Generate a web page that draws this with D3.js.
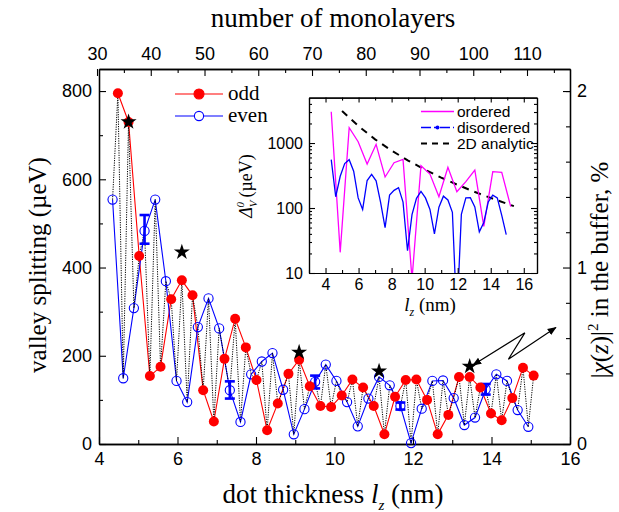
<!DOCTYPE html>
<html><head><meta charset="utf-8">
<script src="https://cdn.jsdelivr.net/npm/d3@7"></script>
<style>body{margin:0;background:#fff} svg{display:block}</style>
</head><body><svg id="c" width="619" height="512"></svg>
<script>
// ---------- data ----------
const ML_NM = 0.1358; // nm per monolayer
const oddML  = [33,35,37,39,41,43,45,47,49,51,53,55,57,59,61,63,65,67,69,71,73,75,77,79,81,83,85,87,89,91,93,95,97,99,101,103,105,107,109,111];
const oddVal = [795,730,426,154,175,328,371,337,122,51,193,284,219,145,31,92,159,191,131,86,84,110,146,128,86,22,107,145,146,100,22,66,152,152,128,69,54,104,173,155];
const evenML  = [32,34,36,38,40,42,44,46,48,50,52,54,56,58,60,62,64,66,68,70,72,74,76,78,80,82,84,86,88,90,92,94,96,98,100,102,104,106,108,110];
const evenVal = [554,149,308,483,554,369,143,95,265,330,262,122,50,158,187,206,123,22,79,141,180,143,95,40,103,152,133,86,2,80,143,144,104,43,60,124,158,143,77,39];
const errML = [38,54,70,86,102];
const errLo = [454,103,126,78,112];
const errHi = [519,142,155,94,136];
const starML  = [35,45,67,82,99];
const starVal = [730,435,208,165,176];
const orderedML  = [32,36,40,44,48,52,56,60,64,68,72,76,80,84,88,92,96,100,104,108,112];
const orderedVal = [3030,20.8,1720,1047,475,955,300,498,561,8,448,333,149,423,178,254,384,52,362,354,105];
const analyticLz  = [5.0,6,7,8,9,10,11,12,13,14,15,15.4];
const analyticVal = [3100,1820,1140,765,537,392,294,227,178,143,116,107];
const arrowLz  = [13.53,14.85,14.43,15.64];
const arrowVal = [179,252,192,264];
const xTicks = [4,6,8,10,12,14,16];
const xMinor = [5,7,9,11,13,15];
const yTicks = [0,200,400,600,800];
const yMinor = [100,300,500,700];
const rTicks = [0,1,2];
const rMinor = [0.2,0.4,0.6,0.8,1.2,1.4,1.6,1.8,2.0];
const topTicks = [30,40,50,60,70,80,90,100,110];
const topMinor = [35,45,55,65,75,85,95,105,115];
const topDomain = [30.37,118.0];
const inXTicks = [4,6,8,10,12,14,16];
const inXMinor = [3,5,7,9,11,13,15];
const inYTicks = [10,100,1000];
const inYMinor = [20,30,40,50,60,70,80,90,200,300,400,500,600,700,800,900,2000,3000,4000];

// ---------- setup ----------
const SANS = "'Liberation Sans', Arial, sans-serif";
const SERIF = "'Liberation Serif', 'Times New Roman', serif";
const svg = d3.select("#c");
const L = 99, R = 570, T = 69, B = 444;
const x = d3.scaleLinear([4,16],[L,R]);
const y = d3.scaleLinear([0,850],[B,T]);
const yR = d3.scaleLinear([0,850/400],[B,T]);
const xTop = d3.scaleLinear(topDomain,[L,R]);

function styleAxis(g, fs, font){
  g.selectAll("path.domain").attr("stroke","#000").attr("stroke-width",1.3);
  g.selectAll(".tick line").attr("stroke","#000").attr("stroke-width",1.1);
  g.selectAll("text").attr("font-family",font||SANS).attr("font-size",fs).attr("fill","#000");
}
// main axes
const gB = svg.append("g").attr("transform",`translate(0,${B})`)
  .call(d3.axisBottom(x).tickValues(xTicks).tickSize(-7).tickSizeOuter(0).tickPadding(8));
styleAxis(gB,18);
const gBm = svg.append("g").attr("transform",`translate(0,${B})`)
  .call(d3.axisBottom(x).tickValues(xMinor).tickSize(-4).tickSizeOuter(0).tickFormat(""));
styleAxis(gBm,18);
const gL = svg.append("g").attr("transform",`translate(${L},0)`)
  .call(d3.axisLeft(y).tickValues(yTicks).tickSize(-7).tickSizeOuter(0).tickPadding(7));
styleAxis(gL,18);
const gLm = svg.append("g").attr("transform",`translate(${L},0)`)
  .call(d3.axisLeft(y).tickValues(yMinor).tickSize(-4).tickSizeOuter(0).tickFormat(""));
styleAxis(gLm,18);
const gR = svg.append("g").attr("transform",`translate(${R},0)`)
  .call(d3.axisRight(yR).tickValues(rTicks).tickSize(-7).tickSizeOuter(0).tickPadding(7).tickFormat(d3.format("d")));
styleAxis(gR,18);
const gRm = svg.append("g").attr("transform",`translate(${R},0)`)
  .call(d3.axisRight(yR).tickValues(rMinor).tickSize(-4).tickSizeOuter(0).tickFormat(""));
styleAxis(gRm,18);
const gT = svg.append("g").attr("transform",`translate(0,${T})`)
  .call(d3.axisTop(xTop).tickValues(topTicks).tickSize(-7).tickSizeOuter(0).tickPadding(9));
styleAxis(gT,18);
const gTm = svg.append("g").attr("transform",`translate(0,${T})`)
  .call(d3.axisTop(xTop).tickValues(topMinor).tickSize(-4).tickSizeOuter(0).tickFormat(""));
styleAxis(gTm,18);

// titles
svg.append("text").attr("x",333).attr("y",27).attr("text-anchor","middle")
  .attr("font-family",SERIF).attr("font-size",27).text("number of monolayers");
const bt = svg.append("text").attr("x",333).attr("y",503).attr("text-anchor","middle")
  .attr("font-family",SERIF).attr("font-size",27);
bt.append("tspan").text("dot thickness ");
bt.append("tspan").attr("font-style","italic").text("l");
bt.append("tspan").attr("font-style","italic").attr("font-size",15).attr("dy",7).text("z");
bt.append("tspan").attr("dy",-7).text(" (nm)");
svg.append("text").attr("transform","translate(46,265) rotate(-90)").attr("text-anchor","middle")
  .attr("font-family",SERIF).attr("font-size",25).text("valley splitting (\u00B5eV)");
const rt = svg.append("text").attr("transform","translate(608,270) rotate(-90)").attr("text-anchor","middle")
  .attr("font-family",SERIF).attr("font-size",25);
rt.append("tspan").text("|");
rt.append("tspan").attr("font-style","italic").text("\u03C7");
rt.append("tspan").text("(");
rt.append("tspan").attr("font-style","italic").text("z");
rt.append("tspan").text(")|");
rt.append("tspan").attr("font-size",15).attr("dy",-10).text("2");
rt.append("tspan").attr("dy",10).text(" in the buffer, %");

// ---------- main data ----------
const odd = oddML.map((m,i)=>({lz:m*ML_NM, v:oddVal[i], ml:m}));
const even = evenML.map((m,i)=>({lz:m*ML_NM, v:evenVal[i], ml:m}));
const all = odd.concat(even).sort((a,b)=>a.ml-b.ml);
const line = d3.line().x(d=>x(d.lz)).y(d=>y(d.v));
svg.append("path").attr("d",line(odd)).attr("fill","none").attr("stroke","#ff0000").attr("stroke-width",1.1);
svg.append("path").attr("d",line(even)).attr("fill","none").attr("stroke","#0000ff").attr("stroke-width",1.1);
svg.append("path").attr("d",line(all)).attr("fill","none").attr("stroke","#000").attr("stroke-width",1).attr("stroke-dasharray","1.2,1.2");

// error bars
errML.forEach((m,i)=>{
  const cx = x(m*ML_NM), g = svg.append("g").attr("stroke","#0000ff").attr("stroke-width",2.6);
  g.append("line").attr("x1",cx).attr("x2",cx).attr("y1",y(errLo[i])).attr("y2",y(errHi[i]));
  g.append("line").attr("x1",cx-5).attr("x2",cx+5).attr("y1",y(errLo[i])).attr("y2",y(errLo[i]));
  g.append("line").attr("x1",cx-5).attr("x2",cx+5).attr("y1",y(errHi[i])).attr("y2",y(errHi[i]));
});
svg.append("g").selectAll("circle").data(even).join("circle")
  .attr("cx",d=>x(d.lz)).attr("cy",d=>y(d.v)).attr("r",4.6)
  .attr("fill","none").attr("stroke","#0000ff").attr("stroke-width",1.1);
svg.append("g").selectAll("circle").data(odd).join("circle")
  .attr("cx",d=>x(d.lz)).attr("cy",d=>y(d.v)).attr("r",5).attr("fill","#ff0000");

// stars
const star = d3.symbol().type(d3.symbolStar).size(80);
svg.append("g").selectAll("path").data(starML.map((m,i)=>({lz:m*ML_NM,v:starVal[i]}))).join("path")
  .attr("d",star).attr("transform",d=>`translate(${x(d.lz)},${y(d.v)})`).attr("fill","#000");

// arrow
const defs = svg.append("defs");
defs.append("marker").attr("id","ah").attr("viewBox","0 0 10 10").attr("refX",9).attr("refY",5)
  .attr("markerWidth",9).attr("markerHeight",9).attr("markerUnits","userSpaceOnUse").attr("orient","auto-start-reverse")
  .append("path").attr("d","M0,1 L10,5 L0,9 Z").attr("fill","#000");
const arr = arrowLz.map((l,i)=>[x(l),y(arrowVal[i])]);
svg.append("path").attr("d",d3.line()(arr)).attr("fill","none").attr("stroke","#000").attr("stroke-width",1.2)
  .attr("marker-start","url(#ah)").attr("marker-end","url(#ah)");

// main legend
const lg = svg.append("g");
[["odd","#ff0000",true,94],["even","#0000ff",false,116]].forEach(([t,c,f,yy])=>{
  lg.append("line").attr("x1",175).attr("x2",223).attr("y1",yy).attr("y2",yy).attr("stroke",c).attr("stroke-width",1.1);
  lg.append("circle").attr("cx",199).attr("cy",yy).attr("r",f?5:4.6).attr("fill",f?c:"#fff").attr("stroke",c).attr("stroke-width",1.1);
  lg.append("text").attr("x",228).attr("y",yy+6).attr("font-family",SERIF).attr("font-size",21).text(t);
});

// ---------- inset ----------
const iL = 309, iR = 537, iT = 97.6, iB = 273;
const xi = d3.scaleLinear([3,16.8],[iL,iR]);
const yi = d3.scaleLog([10,5000],[iB,iT]);
svg.append("rect").attr("x",iL).attr("y",iT).attr("width",iR-iL).attr("height",iB-iT).attr("fill","#fff");
defs.append("clipPath").attr("id","ic").append("rect").attr("x",iL).attr("y",iT).attr("width",iR-iL).attr("height",iB-iT);
const ic = svg.append("g").attr("clip-path","url(#ic)");
const li = d3.line().x(d=>xi(d.lz)).y(d=>yi(Math.max(d.v,1)));
ic.append("path").attr("d",li(analyticLz.map((l,i)=>({lz:l,v:analyticVal[i]}))))
  .attr("fill","none").attr("stroke","#000").attr("stroke-width",2).attr("stroke-dasharray","7,6");
ic.append("path").attr("d",li(orderedML.map((m,i)=>({lz:m*ML_NM,v:orderedVal[i]}))))
  .attr("fill","none").attr("stroke","#ff00ff").attr("stroke-width",1.3);
ic.append("path").attr("d",li(even))
  .attr("fill","none").attr("stroke","#0000ff").attr("stroke-width",1.3);

function insetAxis(gen, tr, vals, size, labels){
  const g = svg.append("g").attr("transform",tr)
    .call(gen.tickValues(vals).tickSize(size).tickSizeOuter(0).tickPadding(6).tickFormat(labels?d3.format("d"):""));
  styleAxis(g,16);
  g.selectAll("path.domain").attr("stroke-width",1.2);
  return g;
}
insetAxis(d3.axisBottom(xi),`translate(0,${iB})`,inXTicks,-5,true);
insetAxis(d3.axisBottom(xi),`translate(0,${iB})`,inXMinor,-3,false);
insetAxis(d3.axisTop(xi),`translate(0,${iT})`,inXTicks,-5,false);
insetAxis(d3.axisTop(xi),`translate(0,${iT})`,inXMinor,-3,false);
insetAxis(d3.axisLeft(yi),`translate(${iL},0)`,inYTicks,-6,true);
insetAxis(d3.axisLeft(yi),`translate(${iL},0)`,inYMinor,-3,false);
insetAxis(d3.axisRight(yi),`translate(${iR},0)`,inYTicks,-6,false);
insetAxis(d3.axisRight(yi),`translate(${iR},0)`,inYMinor,-3,false);

const ixl = svg.append("text").attr("x",430).attr("y",311).attr("text-anchor","middle")
  .attr("font-family",SERIF).attr("font-size",19);
ixl.append("tspan").attr("font-style","italic").text("l");
ixl.append("tspan").attr("font-style","italic").attr("font-size",12).attr("dy",5).text("z");
ixl.append("tspan").attr("dy",-5).text(" (nm)");
const iyl = svg.append("text").attr("transform","translate(252,186) rotate(-90)").attr("text-anchor","middle")
  .attr("font-family",SERIF).attr("font-size",18);
iyl.append("tspan").attr("font-style","italic").text("\u0394");
iyl.append("tspan").attr("font-style","italic").attr("font-size",11).attr("dy",5).text("V");
iyl.append("tspan").attr("font-style","italic").attr("font-size",11).attr("dy",-13).attr("dx",-7).text("0");
iyl.append("tspan").attr("dy",8).text(" (\u00B5eV)");

// inset legend
const il = svg.append("g");
il.append("line").attr("x1",421).attr("x2",454).attr("y1",111.5).attr("y2",111.5).attr("stroke","#ff00ff").attr("stroke-width",1.3);
il.append("line").attr("x1",421).attr("x2",454).attr("y1",127.5).attr("y2",127.5).attr("stroke","#0000ff").attr("stroke-width",1.3).attr("stroke-dasharray","10,3,3,3");
il.append("circle").attr("cx",437.5).attr("cy",127.5).attr("r",2).attr("fill","#0000ff");
il.append("line").attr("x1",421).attr("x2",454).attr("y1",143.5).attr("y2",143.5).attr("stroke","#000").attr("stroke-width",2).attr("stroke-dasharray","6,5");
[["ordered",111.5],["disordered",127.5],["2D analytic",143.5]].forEach(([t,yy])=>{
  il.append("text").attr("x",457).attr("y",yy+5.5).attr("font-family",SANS).attr("font-size",15.5).text(t);
});
</script></body></html>
